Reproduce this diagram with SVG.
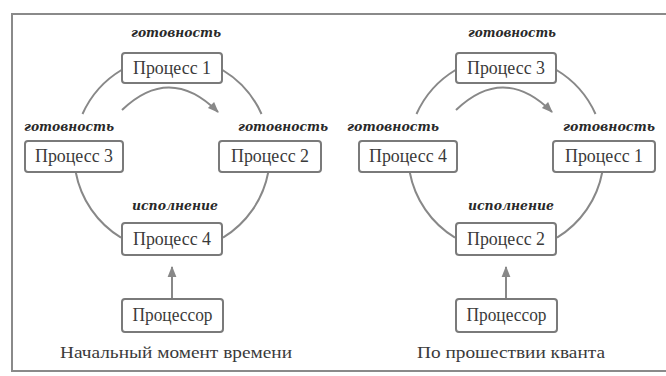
<svg xmlns="http://www.w3.org/2000/svg" width="666" height="376" viewBox="0 0 666 376">
<defs>
<style>
.box{fill:#fff;stroke:#7a7a7a;stroke-width:2}
.t{font-family:"Liberation Serif","Times New Roman",serif;font-size:18px;fill:#3a3a3a;text-anchor:middle}
.lbl{font-family:"DejaVu Serif",serif;font-size:12px;font-weight:bold;font-style:italic;fill:#2a2a2a;text-anchor:middle}
.cap{font-family:"Liberation Serif","Times New Roman",serif;font-size:17px;fill:#3a3a3a;text-anchor:middle}
.arc{fill:none;stroke:#888;stroke-width:2}
</style>
<marker id="ah2" viewBox="0 0 10 10" refX="9" refY="5" markerWidth="11" markerHeight="11" orient="auto" markerUnits="userSpaceOnUse">
<path d="M0,1 L10,5 L0,9 z" fill="#888"/>
</marker>
</defs>
<rect x="0" y="0" width="666" height="376" fill="#fff"/>
<rect x="12" y="14" width="680" height="357" fill="#fff" stroke="#8a8a8a" stroke-width="2"/>

<g id="left">
<g id="connectors-left">
<path class="arc" d="M222.5,70 A98,98 0 0 1 261.5,114"/>
<path class="arc" d="M268.3,172 A98,98 0 0 1 223,237.7"/>
<path class="arc" d="M121.5,70 A98,98 0 0 0 82.5,114"/>
<path class="arc" d="M75.7,172 A98,98 0 0 0 121,237.7"/>
<path class="arc" d="M122,110 Q170,64 218,112" marker-end="url(#ah2)"/>
<path class="arc" d="M172,298 L172,267" marker-end="url(#ah2)"/>
</g>
<g id="L-p1"><rect class="box" x="122" y="53" width="100" height="30" rx="3"/><text class="t" x="172" y="74" textLength="78" lengthAdjust="spacingAndGlyphs">Процесс 1</text></g>
<g id="L-p3"><rect class="box" x="25" y="141" width="98" height="31" rx="3"/><text class="t" x="74" y="162" textLength="78" lengthAdjust="spacingAndGlyphs">Процесс 3</text></g>
<g id="L-p2"><rect class="box" x="219" y="141" width="102" height="31" rx="3"/><text class="t" x="270" y="162" textLength="78" lengthAdjust="spacingAndGlyphs">Процесс 2</text></g>
<g id="L-p4"><rect class="box" x="122" y="223" width="100" height="32" rx="3"/><text class="t" x="172" y="245" textLength="78" lengthAdjust="spacingAndGlyphs">Процесс 4</text></g>
<g id="L-cpu"><rect class="box" x="122" y="299" width="101" height="33" rx="3"/><text class="t" x="172.5" y="321" textLength="80" lengthAdjust="spacingAndGlyphs">Процессор</text></g>
<text class="lbl" x="176" y="37" textLength="90" lengthAdjust="spacingAndGlyphs">готовность</text>
<text class="lbl" x="69" y="131" textLength="90" lengthAdjust="spacingAndGlyphs">готовность</text>
<text class="lbl" x="283" y="131" textLength="90" lengthAdjust="spacingAndGlyphs">готовность</text>
<text class="lbl" x="175" y="210" textLength="86" lengthAdjust="spacingAndGlyphs">исполнение</text>
<text class="cap" x="176" y="358" textLength="232" lengthAdjust="spacingAndGlyphs">Начальный момент времени</text>
</g>

<g id="right" transform="translate(334,0)">
<g id="connectors-right">
<path class="arc" d="M222.5,70 A98,98 0 0 1 261.5,114"/>
<path class="arc" d="M268.3,172 A98,98 0 0 1 223,237.7"/>
<path class="arc" d="M121.5,70 A98,98 0 0 0 82.5,114"/>
<path class="arc" d="M75.7,172 A98,98 0 0 0 121,237.7"/>
<path class="arc" d="M122,110 Q170,64 218,112" marker-end="url(#ah2)"/>
<path class="arc" d="M172,298 L172,267" marker-end="url(#ah2)"/>
</g>
<g id="R-p3"><rect class="box" x="122" y="53" width="100" height="30" rx="3"/><text class="t" x="172" y="74" textLength="78" lengthAdjust="spacingAndGlyphs">Процесс 3</text></g>
<g id="R-p4"><rect class="box" x="25" y="141" width="98" height="31" rx="3"/><text class="t" x="74" y="162" textLength="78" lengthAdjust="spacingAndGlyphs">Процесс 4</text></g>
<g id="R-p1"><rect class="box" x="219" y="141" width="102" height="31" rx="3"/><text class="t" x="270" y="162" textLength="78" lengthAdjust="spacingAndGlyphs">Процесс 1</text></g>
<g id="R-p2"><rect class="box" x="122" y="223" width="100" height="32" rx="3"/><text class="t" x="172" y="245" textLength="78" lengthAdjust="spacingAndGlyphs">Процесс 2</text></g>
<g id="R-cpu"><rect class="box" x="122" y="299" width="101" height="33" rx="3"/><text class="t" x="172.5" y="321" textLength="80" lengthAdjust="spacingAndGlyphs">Процессор</text></g>
<text class="lbl" x="178" y="37" textLength="88" lengthAdjust="spacingAndGlyphs">готовность</text>
<text class="lbl" x="59" y="131" textLength="92" lengthAdjust="spacingAndGlyphs">готовность</text>
<text class="lbl" x="275" y="131" textLength="92" lengthAdjust="spacingAndGlyphs">готовность</text>
<text class="lbl" x="177" y="210" textLength="86" lengthAdjust="spacingAndGlyphs">исполнение</text>
<text class="cap" x="177" y="358" textLength="188" lengthAdjust="spacingAndGlyphs">По прошествии кванта</text>
</g>
</svg>
